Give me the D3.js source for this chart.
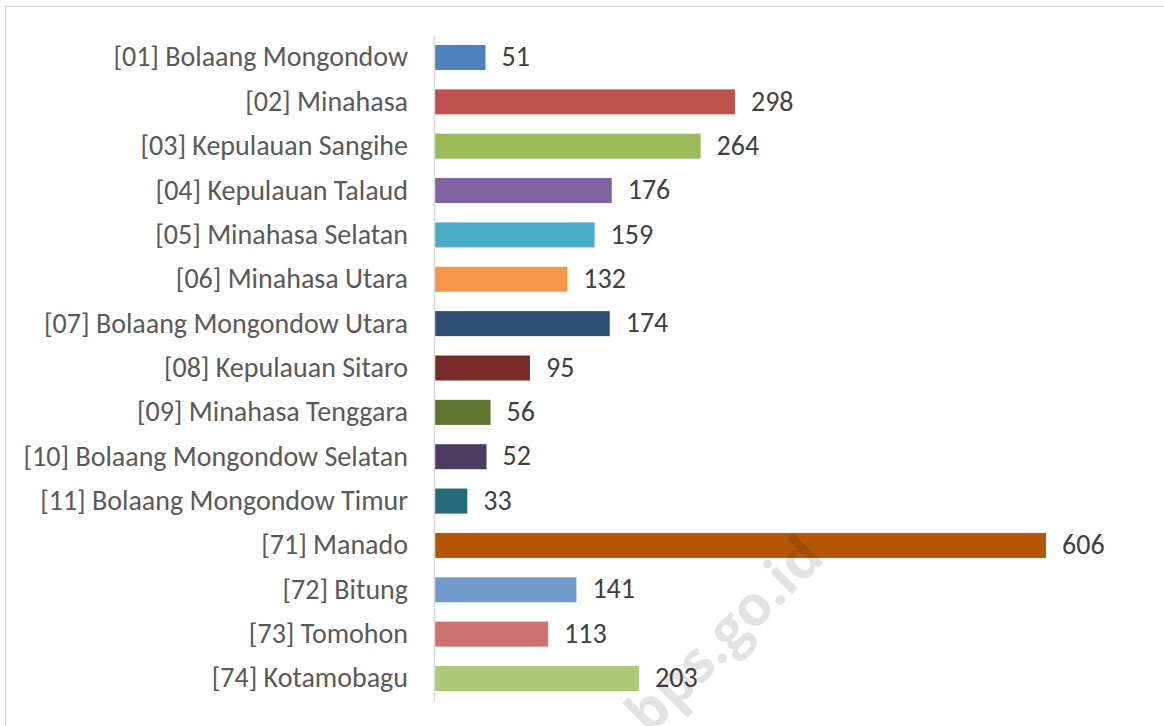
<!DOCTYPE html>
<html>
<head>
<meta charset="utf-8">
<script src="https://cdn.jsdelivr.net/npm/d3@7"></script>
<style>
  body { margin: 0; background: #fff; }
  svg { display: block; }
</style>
</head>
<body>
<div id="chart"></div>
<script>
// kabupaten / kota
var regions = ['[01] Bolaang Mongondow', '[02] Minahasa', '[03] Kepulauan Sangihe', '[04] Kepulauan Talaud',
    '[05] Minahasa Selatan', '[06] Minahasa Utara', '[07] Bolaang Mongondow Utara', '[08] Kepulauan Sitaro',
    '[09] Minahasa Tenggara', '[10] Bolaang Mongondow Selatan', '[11] Bolaang Mongondow Timur',
    '[71] Manado', '[72] Bitung', '[73] Tomohon', '[74] Kotamobagu']
var values = [51, 298, 264, 176, 159, 132, 174, 95, 56, 52, 33, 606, 141, 113, 203]
var colors = ['#4F81BD', '#C0504D', '#9BBB59', '#8064A2', '#4BACC6', '#F79646', '#2C4D75', '#772C2A',
    '#5F7530', '#4D3B62', '#276A7C', '#B65708', '#729ACA', '#CD7371', '#AFC97A']

var width = 1164,
    height = 726,
    fontFam = "Carlito, Calibri, 'Open Sans', sans-serif",
    fontSize = '28px';

var data = regions.map(function (r, i) {
    return { name: r, value: values[i], color: colors[i] }
})

var svg = d3.select('#chart')
    .append('svg')
    .attr('width', width)
    .attr('height', height);

// chart frame
svg.append('rect')
    .attr('x', 5.5)
    .attr('y', 6.5)
    .attr('width', width + 10)
    .attr('height', height + 10)
    .attr('fill', 'none')
    .attr('stroke', '#d9d9d9')
    .attr('stroke-width', 1.5);

var xScale = d3.scaleLinear().domain([0, 606]).range([434, 1046]);
var yScale = d3.scaleBand()
    .domain(regions)
    .range([35.3, 700.7])
    .paddingInner(0.436)
    .paddingOuter(0.218);

svg.selectAll('.bar')
    .data(data)
    .enter().append('rect')
    .attr('class', 'bar')
    .attr('x', xScale(0))
    .attr('y', d => yScale(d.name))
    .attr('width', d => xScale(d.value) - xScale(0))
    .attr('height', yScale.bandwidth())
    .attr('fill', d => d.color);

// value labels
svg.selectAll('.val')
    .data(data)
    .enter().append('text')
    .attr('class', 'val')
    .attr('x', d => xScale(d.value) + 16)
    .attr('y', d => yScale(d.name) + yScale.bandwidth() / 2 + 2)
    .attr('dominant-baseline', 'middle')
    .style('font-family', fontFam)
    .style('font-size', fontSize)
    .style('fill', '#404040')
    .text(d => d.value);

// category axis
var yAxis = d3.axisLeft(yScale).tickSize(0).tickPadding(26);
var ax = svg.append('g')
    .attr('class', 'y axis')
    .attr('transform', 'translate(' + xScale(0) + ',0)')
    .call(yAxis);
ax.select('.domain').attr('stroke', '#d9d9d9').attr('stroke-width', 1.5);
ax.selectAll('text')
    .style('font-family', fontFam)
    .style('font-size', fontSize)
    .style('fill', '#595959');

// watermark
svg.append('text')
    .attr('transform', 'translate(826,560) rotate(-45)')
    .attr('text-anchor', 'end')
    .style('font-family', "'Open Sans', sans-serif")
    .style('font-weight', 'bold')
    .style('font-size', '56px')
    .style('fill', '#000')
    .style('fill-opacity', 0.11)
    .text('bps.go.id');
</script>
</body>
</html>
